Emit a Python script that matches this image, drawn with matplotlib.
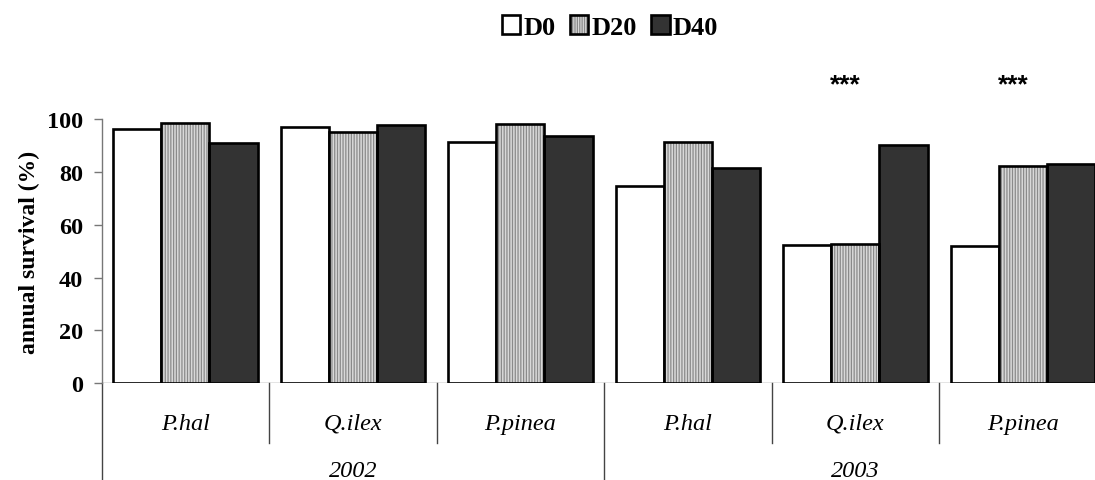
import matplotlib
matplotlib.use("Agg")

import matplotlib.pyplot as plt
import matplotlib.transforms as mtransforms
from matplotlib.patches import Patch
import numpy as np

# values (annual survival, %)
species = ["P.hal", "Q.ilex", "P.pinea", "P.hal", "Q.ilex", "P.pinea"]
years = ["2002", "2003"]
d0 = [96.2, 96.9, 91.2, 74.8, 52.4, 52.1]
d20 = [98.4, 95.0, 98.1, 91.2, 52.7, 82.3]
d40 = [91.0, 97.7, 93.5, 81.5, 90.2, 82.9]
series_names = ["D0", "D20", "D40"]
signif = ["", "", "", "", "***", "***"]
yticks = [0, 20, 40, 60, 80, 100]


def main():
    plt.rcParams["font.family"] = ["Liberation Serif", "DejaVu Serif"]
    plt.rcParams["hatch.linewidth"] = 0.9

    fig = plt.figure(figsize=(10.95, 4.81), dpi=100)
    # axes runs a bit past the right edge, as in the reference
    ax = fig.add_axes([101.7 / 1095, 96.7 / 481, 1005 / 1095, 264.3 / 481])

    x = np.arange(len(species))
    w = 0.287
    edge = dict(edgecolor="black", linewidth=1.9)

    ax.bar(x - w, d0, w, color="white", **edge, zorder=2)
    ax.bar(x, d20, w, color="#d9d9d9", edgecolor="#8a8a8a", linewidth=0, hatch="||||||", zorder=2)
    ax.bar(x, d20, w, fill=False, **edge, zorder=3)
    ax.bar(x + w, d40, w, color="#333333", **edge, zorder=2)

    ax.set_xlim(-0.5, len(species) - 0.5)
    ax.set_ylim(0, 100)
    ax.set_yticks(yticks)
    ax.set_xticks([])

    for s in ["top", "right", "bottom"]:
        ax.spines[s].set_visible(False)
    ax.spines["left"].set_color("#777777")
    ax.spines["left"].set_linewidth(1.0)
    ax.axhline(0, color="#777777", linewidth=1.0, zorder=1)
    ax.tick_params(axis="y", direction="out", length=5.8, width=1.0, color="#777777", pad=7.5)
    for lab in ax.get_yticklabels():
        lab.set_fontweight("bold")
        lab.set_fontsize(17.5)

    ax.set_ylabel("annual survival (%)", fontsize=17, fontweight="bold", labelpad=5)

    # category axis below the plot
    trans = mtransforms.blended_transform_factory(ax.transData, ax.transAxes)
    for i in range(len(species) + 1):
        xs = i - 0.5
        if i % 3 == 0:
            ax.plot([xs, xs], [0, -0.4], transform=trans, color="#444444", lw=1.0, clip_on=False)
        else:
            ax.plot([xs, xs], [0, -0.226], transform=trans, color="#444444", lw=1.0, clip_on=False)
    for i, name in enumerate(species):
        ax.text(x[i], -0.172, name, transform=trans, ha="center", va="baseline",
                fontsize=17.5, fontstyle="italic")
    for j, yr in enumerate(years):
        ax.text(3 * j + 1, -0.352, yr, transform=trans, ha="center", va="baseline",
                fontsize=17.5, fontstyle="italic")

    for i, s in enumerate(signif):
        if s:
            ax.text(x[i] - 0.06, 113.3, s, ha="center", va="center", fontsize=19,
                    fontweight="bold", family=["Liberation Sans"], clip_on=False)

    h0 = Patch(facecolor="white", edgecolor="black", linewidth=1.9)
    h1 = (Patch(facecolor="#d9d9d9", edgecolor="#8a8a8a", linewidth=0, hatch="|||||||"),
          Patch(fill=False, edgecolor="black", linewidth=1.9))
    h2 = Patch(facecolor="#333333", edgecolor="black", linewidth=1.9)
    fig.legend([h0, h1, h2], series_names, loc="center", bbox_to_anchor=(610 / 1095, 1 - 28 / 481),
               ncol=3, frameon=False, handlelength=0.7, handleheight=0.7, handletextpad=0.12,
               columnspacing=0.55, prop={"weight": "bold", "size": 19})

    fig.savefig("out.png", dpi=100)
    plt.close(fig)


if __name__ == "__main__":
    main()
